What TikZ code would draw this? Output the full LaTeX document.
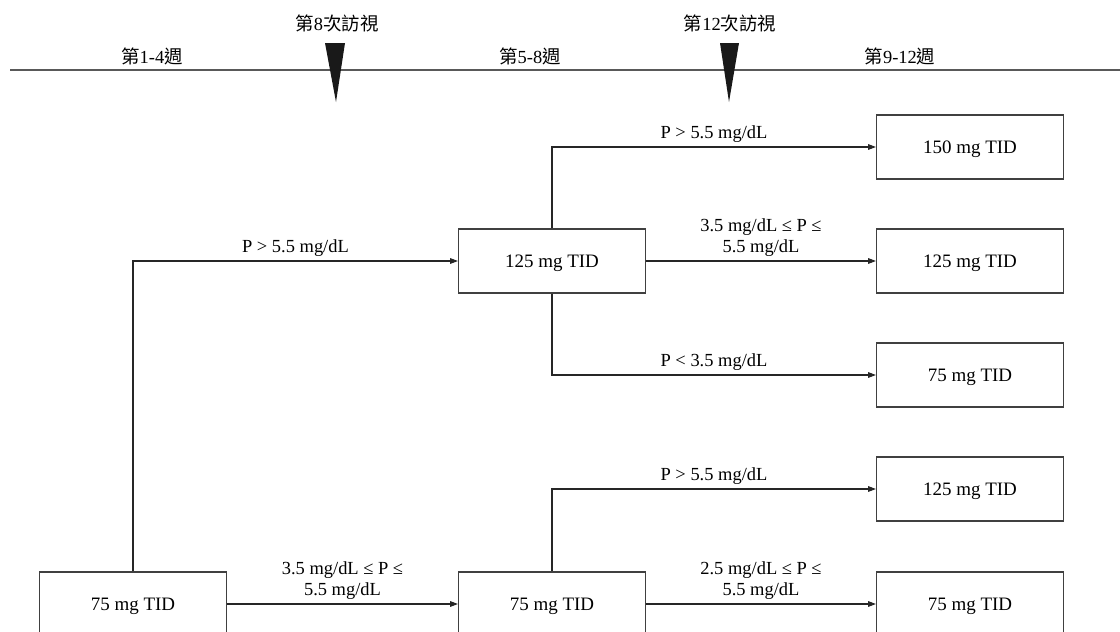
\documentclass[tikz,border=0pt]{standalone}
\usepackage{fontspec}
\setmainfont{Liberation Serif}
\newfontfamily\cjk{Noto Sans CJK TC}
\usetikzlibrary{arrows.meta}

\tikzset{
  dosebox/.style={draw=black!75, line width=0.6pt, minimum width=187*0.02cm,
    minimum height=64*0.02cm, inner sep=0pt, text depth=0pt,
    font=\fontsize{10.8}{12.5}\selectfont},
  flow/.style={draw=black!85, line width=0.6pt, -{Triangle[length=4.5pt,width=3.2pt]}},
  cond/.style={above, inner sep=2pt, align=center, font=\fontsize{10.5}{12.5}\selectfont},
  marker/.style={fill=black!90, draw=none}
}

\begin{document}
\begin{tikzpicture}[x=0.02cm, y=-0.02cm, font=\fontsize{10.5}{12.5}\selectfont]
  % page frame and clipping (bottom boxes run off the page)
  \clip (0,0) rectangle (1120,632);

  % timeline
  \draw[black!65, line width=0.8pt] (10,70) -- (1120,70);
  \node (wk1) at (152,56) {{\cjk 第}1-4{\cjk 週}};
  \node (wk5) at (530,56) {{\cjk 第}5-8{\cjk 週}};
  \node (wk9) at (900,56) {{\cjk 第}9-12{\cjk 週}};

  % visit markers
  \node (visit8) at (337,23) {{\cjk 第}8{\cjk 次訪視}};
  \node (visit12) at (730,23) {{\cjk 第}12{\cjk 次訪視}};
  \fill[marker] (325,43) -- (345,43) -- (336,102) -- cycle;
  \fill[marker] (720,43) -- (739,43) -- (729,102) -- cycle;

  % starting dose and second-stage doses
  \node[dosebox] (start) at (133,604) {75 mg TID};
  \node[dosebox] (high) at (552,261) {125 mg TID};
  \node[dosebox] (keep) at (552,604) {75 mg TID};

  % third-stage doses
  \node[dosebox] (highA) at (970,147) {150 mg TID};
  \node[dosebox] (highB) at (970,261) {125 mg TID};
  \node[dosebox] (highC) at (970,375) {75 mg TID};
  \node[dosebox] (keepA) at (970,489) {125 mg TID};
  \node[dosebox] (keepB) at (970,604) {75 mg TID};

  % connectors from the starting dose
  \draw[flow] (start.north) |- node[cond, pos=0.75] {P > 5.5 mg/dL} (high.west);
  \draw[flow] (start.east) -- node[cond] {3.5 mg/dL ≤ P ≤\\5.5 mg/dL} (keep.west);

  % connectors from 125 mg TID
  \draw[flow] (high.north) |- node[cond, pos=0.75] {P > 5.5 mg/dL} (highA.west);
  \draw[flow] (high.east) -- node[cond] {3.5 mg/dL ≤ P ≤\\5.5 mg/dL} (highB.west);
  \draw[flow] (high.south) |- node[cond, pos=0.75] {P < 3.5 mg/dL} (highC.west);

  % connectors from 75 mg TID
  \draw[flow] (keep.north) |- node[cond, pos=0.75] {P > 5.5 mg/dL} (keepA.west);
  \draw[flow] (keep.east) -- node[cond] {2.5 mg/dL ≤ P ≤\\5.5 mg/dL} (keepB.west);
\end{tikzpicture}
\end{document}
